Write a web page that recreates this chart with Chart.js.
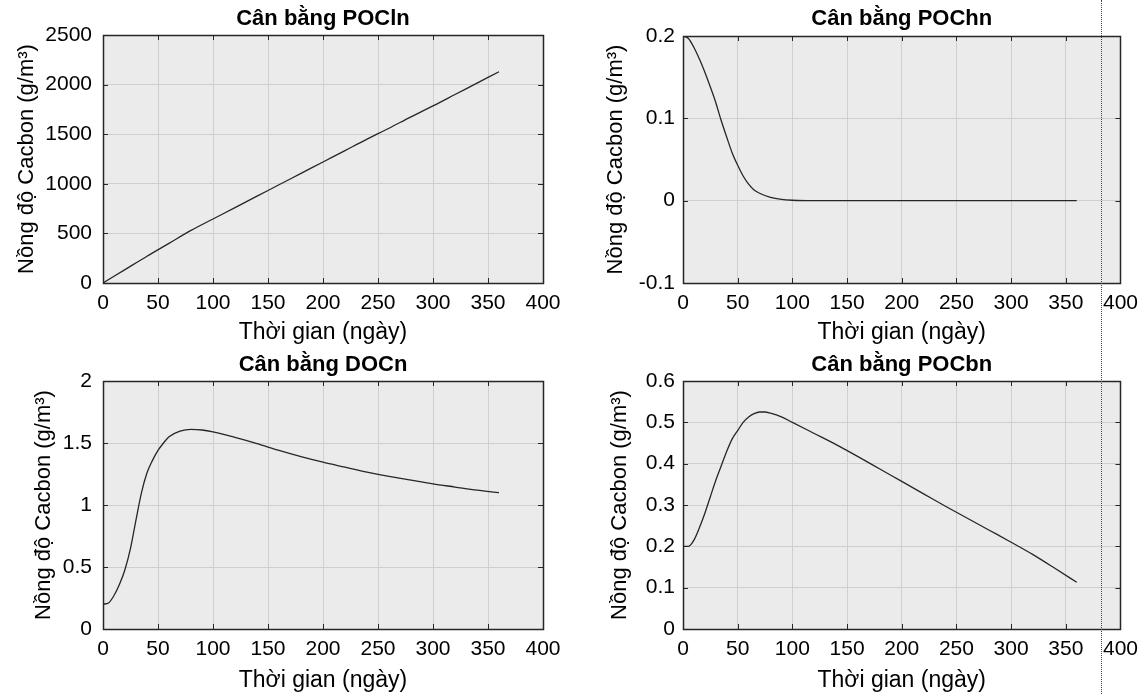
<!DOCTYPE html>
<html>
<head>
<meta charset="utf-8">
<script src="https://cdn.jsdelivr.net/npm/chart.js@4.4.1/dist/chart.umd.min.js"></script>
<style>
  html, body { margin: 0; padding: 0; background: #ffffff; }
  body { width: 1146px; height: 694px; position: relative; overflow: hidden; }
  canvas { position: absolute; }
  #marker { position: absolute; left: 1101px; top: 0; height: 694px; border-left: 1px dotted #444; }
</style>
</head>
<body>
<canvas id="c1" width="573" height="347" style="left:0;top:0"></canvas>
<canvas id="c2" width="573" height="347" style="left:573px;top:0"></canvas>
<canvas id="c3" width="573" height="347" style="left:0;top:347px"></canvas>
<canvas id="c4" width="573" height="347" style="left:573px;top:347px"></canvas>
<div id="marker"></div>
<script>
// ---- data ----
var xTicks = [0, 50, 100, 150, 200, 250, 300, 350, 400];

var pocLnDays = [0, 20, 40, 60, 80, 100, 120, 140, 160, 180, 200, 220, 240, 260, 280, 300, 320, 340, 360];
var pocLnVals = [0, 135, 270, 400, 530, 645, 760, 875, 990, 1105, 1220, 1335, 1450, 1560, 1675, 1785, 1900, 2015, 2130];

var pocHnDays = [0, 5, 10, 15, 20, 25, 30, 35, 40, 45, 50, 55, 60, 65, 70, 80, 90, 100, 120, 160, 200, 240, 280, 320, 360];
var pocHnVals = [0.2, 0.197, 0.186, 0.172, 0.156, 0.138, 0.119, 0.097, 0.077, 0.058, 0.043, 0.03, 0.02, 0.013, 0.009, 0.004, 0.0015, 0.0005, 0, 0, 0, 0, 0, 0, 0];

var docNDays = [0, 5, 10, 15, 20, 25, 30, 35, 40, 45, 50, 55, 60, 70, 80, 90, 100, 120, 140, 160, 180, 200, 220, 240, 260, 280, 300, 320, 340, 360];
var docNVals = [0.2, 0.21, 0.27, 0.36, 0.48, 0.65, 0.88, 1.1, 1.26, 1.36, 1.44, 1.5, 1.55, 1.595, 1.61, 1.605, 1.59, 1.545, 1.495, 1.44, 1.39, 1.345, 1.305, 1.265, 1.23, 1.2, 1.17, 1.145, 1.12, 1.1];

var pocBnDays = [0, 5, 10, 15, 20, 25, 30, 35, 40, 45, 50, 55, 60, 65, 70, 75, 80, 90, 100, 120, 140, 160, 180, 200, 220, 240, 260, 280, 300, 320, 340, 360];
var pocBnVals = [0.2, 0.2, 0.215, 0.245, 0.28, 0.32, 0.36, 0.395, 0.43, 0.46, 0.48, 0.5, 0.513, 0.521, 0.525, 0.525, 0.522, 0.513, 0.5, 0.473, 0.446, 0.417, 0.387, 0.357, 0.327, 0.297, 0.268, 0.239, 0.21, 0.18, 0.147, 0.113];

var yLabel = 'Nồng độ Cacbon (g/m³)';
var xLabel = 'Thời gian (ngày)';
var FONT = 'Liberation Sans, Arial, Helvetica, sans-serif';

// matlab style frame: grey plot area, dark box, small inward ticks
var matlabFrame = {
    id: 'matlabFrame',
    beforeDraw: function (chart) {
        var ctx = chart.ctx, a = chart.chartArea;
        ctx.save();
        ctx.fillStyle = '#ebebeb';
        ctx.fillRect(a.left, a.top, a.right - a.left, a.bottom - a.top);
        ctx.restore();
    },
    afterDraw: function (chart) {
        var ctx = chart.ctx, a = chart.chartArea;
        var xs = chart.scales.x, ys = chart.scales.y;
        ctx.save();
        ctx.strokeStyle = '#262626';
        ctx.lineWidth = 1;
        ctx.beginPath();
        xs.ticks.forEach(function (t) {
            var px = Math.round(xs.getPixelForValue(t.value)) + 0.5;
            ctx.moveTo(px, a.bottom); ctx.lineTo(px, a.bottom - 5);
            ctx.moveTo(px, a.top); ctx.lineTo(px, a.top + 5);
        });
        ys.ticks.forEach(function (t) {
            var py = Math.round(ys.getPixelForValue(t.value)) + 0.5;
            ctx.moveTo(a.left, py); ctx.lineTo(a.left + 5, py);
            ctx.moveTo(a.right, py); ctx.lineTo(a.right - 5, py);
        });
        ctx.stroke();
        ctx.lineWidth = 1.5;
        ctx.strokeRect(Math.round(a.left) + 0.5, Math.round(a.top) + 0.5,
            Math.round(a.right - a.left), Math.round(a.bottom - a.top));
        ctx.restore();
    }
};

function fmt(v) {
    return String(+Number(v).toFixed(3));
}

function makeChart(id, title, days, vals, yMin, yMax, yStep, opt) {
    var pts = days.map(function (d, i) { return {x: d, y: vals[i]}; });
    return new Chart(document.getElementById(id), {
        type: 'line',
        data: {
            datasets: [{
                data: pts,
                borderColor: '#262626',
                borderWidth: 1.3,
                pointRadius: 0,
                fill: false,
                cubicInterpolationMode: 'monotone'
            }]
        },
        options: {
            responsive: false,
            animation: false,
            events: [],
            layout: {padding: {left: 0, right: opt.right, top: 0, bottom: 0}},
            plugins: {
                legend: {display: false},
                tooltip: {enabled: false},
                title: {
                    display: true,
                    text: title,
                    fullSize: false,
                    color: '#000',
                    font: {family: FONT, size: 22, weight: 'bold', lineHeight: 1},
                    padding: {top: opt.titleTop, bottom: opt.titleBox - 22 - opt.titleTop}
                }
            },
            scales: {
                x: {
                    type: 'linear',
                    min: 0, max: 400,
                    afterBuildTicks: function (s) { s.ticks = xTicks.map(function (v) { return {value: v}; }); },
                    afterFit: function (s) { s.height = opt.xH; },
                    grid: {color: '#cfcfcf', lineWidth: 1, drawTicks: false},
                    border: {display: false},
                    ticks: {color: '#000', padding: 8, font: {family: FONT, size: 21}, maxRotation: 0, callback: fmt},
                    title: {display: true, text: xLabel, color: '#000',
                        font: {family: FONT, size: 23}, padding: {top: 0, bottom: opt.xTitleBottom}}
                },
                y: {
                    type: 'linear',
                    min: yMin, max: yMax,
                    ticks: {stepSize: yStep, color: '#000', padding: opt.yPad, font: {family: FONT, size: 21}, callback: fmt},
                    afterFit: function (s) { s.width = opt.yW; },
                    grid: {color: '#cfcfcf', lineWidth: 1, drawTicks: false},
                    border: {display: false},
                    title: {display: true, text: yLabel, color: '#000',
                        font: {family: FONT, size: 22}, padding: {top: opt.yTitleLeft, bottom: 0}}
                }
            }
        },
        plugins: [matlabFrame]
    });
}

makeChart('c1', 'Cân bằng POCln', pocLnDays, pocLnVals, 0, 2500, 500,
    {right: 30, yW: 103, xH: 64, titleBox: 35, titleTop: 8, yPad: 11, yTitleLeft: 14, xTitleBottom: 1});
makeChart('c2', 'Cân bằng POChn', pocHnDays, pocHnVals, -0.1, 0.2, 0.1,
    {right: 22, yW: 110, xH: 64, titleBox: 36, titleTop: 8, yPad: 8, yTitleLeft: 30, xTitleBottom: 1});
makeChart('c3', 'Cân bằng DOCn', docNDays, docNVals, 0, 2, 0.5,
    {right: 30, yW: 103, xH: 65, titleBox: 34, titleTop: 7, yPad: 11, yTitleLeft: 31, xTitleBottom: 0});
makeChart('c4', 'Cân bằng POCbn', pocBnDays, pocBnVals, 0, 0.6, 0.1,
    {right: 22, yW: 110, xH: 65, titleBox: 34, titleTop: 7, yPad: 8, yTitleLeft: 34, xTitleBottom: 0});
</script>
</body>
</html>
